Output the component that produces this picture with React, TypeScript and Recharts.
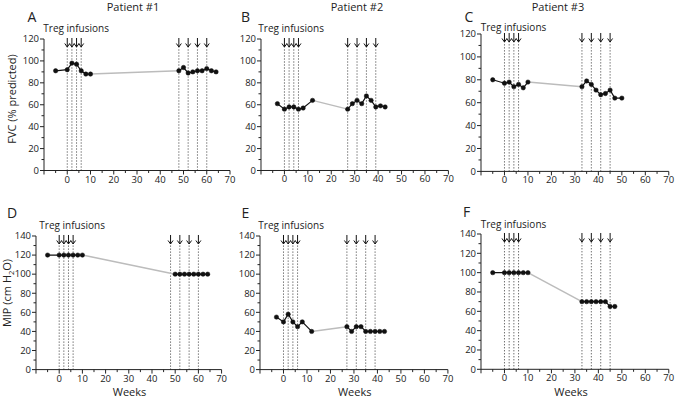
import React from 'react'
import { LineChart, Line, XAxis, YAxis, ReferenceLine } from 'recharts'

// weeks / values
const p1PreWeeks = [-5, 0, 2, 4, 6, 8, 10]
const p1PostWeeks = [48, 50, 52, 54, 56, 58, 60, 62, 64]
const p1FvcPre = [91, 92, 98, 97, 91, 88, 88]
const p1FvcPost = [91, 94, 89, 90, 91, 91, 93, 91, 90]
const p1MipPostWeeks = [50, 52, 54, 56, 58, 60, 62, 64]
const p1MipPre = [120, 120, 120, 120, 120, 120, 120]
const p1MipPost = [100, 100, 100, 100, 100, 100, 100, 100]
const p1Infusions = [0, 2, 4, 6, 48, 52, 56, 60]

const p2PreWeeks = [-3, 0, 2, 4, 6, 8, 12]
const p2PostWeeks = [27, 29, 31, 33, 35, 37, 39, 41, 43]
const p2FvcPre = [61, 56, 58, 58, 56, 57, 64]
const p2FvcPost = [56, 61, 64, 61, 68, 64, 58, 59, 58]
const p2MipPre = [55, 50, 58, 50, 45, 50, 40]
const p2MipPost = [45, 40, 45, 45, 40, 40, 40, 40, 40]
const p2Infusions = [0, 2, 4, 6, 27, 31, 35, 39]

const p3PreWeeks = [-5, 0, 2, 4, 6, 8, 10]
const p3FvcPostWeeks = [33, 35, 37, 39, 41, 43, 45, 47, 50]
const p3FvcPre = [80, 77, 78, 74, 76, 73, 78]
const p3FvcPost = [74, 79, 76, 71, 67, 68, 71, 64, 64]
const p3MipPostWeeks = [33, 35, 37, 39, 41, 43, 45, 47]
const p3MipPre = [100, 100, 100, 100, 100, 100, 100]
const p3MipPost = [70, 70, 70, 70, 70, 70, 65, 65]
const p3Infusions = [0, 2, 4, 6, 33, 37, 41, 45]

const xTicks = [-10, -5, 0, 5, 10, 15, 20, 25, 30, 35, 40, 45, 50, 55, 60, 65, 70]
const fvcTicks = [0, 10, 20, 30, 40, 50, 60, 70, 80, 90, 100, 110, 120]
const mipTicks = [0, 10, 20, 30, 40, 50, 60, 70, 80, 90, 100, 110, 120, 130, 140]

const FONT = '"Open Sans", sans-serif'
const INK = '#222'

const pts = (weeks: number[], vals: number[]) => weeks.map((w, i) => ({ week: w, value: vals[i] }))

const XTick = ({ x, y, payload }: any) => {
  const v = payload.value
  const ay = y - 6
  const major = v % 10 === 0
  return (
    <g>
      <line x1={x} x2={x} y1={ay} y2={ay + (major ? 4 : 2.5)} stroke={INK} />
      {major && v >= 0 && (
        <text x={x} y={ay + 12} textAnchor="middle" fontSize={9.5} fontFamily={FONT} fill={INK}>{v}</text>
      )}
    </g>
  )
}

const YTick = ({ x, y, payload }: any) => {
  const v = payload.value
  const ax = x + 6
  const major = v % 20 === 0
  return (
    <g>
      <line x1={ax} x2={ax - (major ? 4 : 2.5)} y1={y} y2={y} stroke={INK} />
      {major && (
        <text x={ax - 5} y={y + 3.3} textAnchor="end" fontSize={9.5} fontFamily={FONT} fill={INK}>{v}</text>
      )}
    </g>
  )
}

const Infusion = (props: any) => {
  const { x1, y1, y2 } = props
  const top = Math.min(y1, y2)
  const bottom = Math.max(y1, y2)
  const tip = top + 8
  return (
    <g>
      <line x1={x1} x2={x1} y1={bottom} y2={tip} stroke="#333" strokeDasharray="1 2" />
      <line x1={x1} x2={x1} y1={top - 1} y2={tip} stroke="#111" />
      <path d={`M${x1 - 2.5},${tip - 3.5}L${x1},${tip}L${x1 + 2.5},${tip - 3.5}`} fill="none" stroke="#111" />
    </g>
  )
}

interface PanelProps {
  box: { left: number; right: number; top: number; bottom: number }
  yMax: number
  yTicks: number[]
  pre: { week: number; value: number }[]
  post: { week: number; value: number }[]
  infusions: number[]
}

function Panel({ box, yMax, yTicks, pre, post, infusions }: PanelProps) {
  const mTop = 20, yW = 40, mRight = 10, xH = 25
  const w = box.right - box.left + yW + mRight
  const h = box.bottom - box.top + mTop + xH
  const bridge = [pre[pre.length - 1], post[0]]
  return (
    <div style={{ position: 'absolute', left: box.left - yW, top: box.top - mTop, width: w, height: h }}>
      <LineChart width={w} height={h} margin={{ top: mTop, right: mRight, bottom: 0, left: 0 }}>
        <XAxis dataKey="week" type="number" domain={[-10, 70]} ticks={xTicks} interval={0} height={xH}
          tickSize={4} tickMargin={2} tickLine={false} tick={<XTick />} stroke={INK} allowDataOverflow />
        <YAxis type="number" domain={[0, yMax]} ticks={yTicks} interval={0} width={yW}
          tickSize={4} tickMargin={2} tickLine={false} tick={<YTick />} stroke={INK} />
        {infusions.map(v => (
          <ReferenceLine key={v} x={v} shape={Infusion} />
        ))}
        <Line data={bridge} dataKey="value" stroke="#bcbcbc" strokeWidth={1.5} dot={false} isAnimationActive={false} />
        <Line data={pre} dataKey="value" stroke="#111" strokeWidth={1.2} dot={{ r: 2.2, fill: '#111', stroke: '#111', strokeWidth: 0.5 }} isAnimationActive={false} />
        <Line data={post} dataKey="value" stroke="#111" strokeWidth={1.2} dot={{ r: 2.2, fill: '#111', stroke: '#111', strokeWidth: 0.5 }} isAnimationActive={false} />
      </LineChart>
    </div>
  )
}

const txt = { fontFamily: FONT, fill: INK }

export default function App() {
  return (
    <div style={{ position: 'absolute', left: 0, top: 0, width: 675, height: 400, background: '#fff' }}>
      <Panel box={{ left: 44, right: 230, top: 39, bottom: 170.5 }} yMax={120} yTicks={fvcTicks}
        pre={pts(p1PreWeeks, p1FvcPre)} post={pts(p1PostWeeks, p1FvcPost)} infusions={p1Infusions} />
      <Panel box={{ left: 260.6, right: 448, top: 39, bottom: 170.5 }} yMax={120} yTicks={fvcTicks}
        pre={pts(p2PreWeeks, p2FvcPre)} post={pts(p2PostWeeks, p2FvcPost)} infusions={p2Infusions} />
      <Panel box={{ left: 480.5, right: 668.3, top: 34.3, bottom: 171.7 }} yMax={120} yTicks={fvcTicks}
        pre={pts(p3PreWeeks, p3FvcPre)} post={pts(p3FvcPostWeeks, p3FvcPost)} infusions={p3Infusions} />
      <Panel box={{ left: 36.1, right: 221.7, top: 235.7, bottom: 369.3 }} yMax={140} yTicks={mipTicks}
        pre={pts(p1PreWeeks, p1MipPre)} post={pts(p1MipPostWeeks, p1MipPost)} infusions={p1Infusions} />
      <Panel box={{ left: 259.8, right: 447.7, top: 235.7, bottom: 369.3 }} yMax={140} yTicks={mipTicks}
        pre={pts(p2PreWeeks, p2MipPre)} post={pts(p2PostWeeks, p2MipPost)} infusions={p2Infusions} />
      <Panel box={{ left: 480.5, right: 668.3, top: 234, bottom: 369.3 }} yMax={140} yTicks={mipTicks}
        pre={pts(p3PreWeeks, p3MipPre)} post={pts(p3MipPostWeeks, p3MipPost)} infusions={p3Infusions} />

      <svg width={675} height={400} style={{ position: 'absolute', left: 0, top: 0, pointerEvents: 'none' }}>
        <text x={133} y={10.5} textAnchor="middle" fontSize={11} {...txt}>Patient #1</text>
        <text x={357} y={10.5} textAnchor="middle" fontSize={11} {...txt}>Patient #2</text>
        <text x={558} y={10.5} textAnchor="middle" fontSize={11} {...txt}>Patient #3</text>

        <text x={27.5} y={21.7} fontSize={14} {...txt}>A</text>
        <text x={241} y={21.7} fontSize={14} {...txt}>B</text>
        <text x={464.5} y={21.7} fontSize={14} {...txt}>C</text>
        <text x={7} y={218.3} fontSize={14} {...txt}>D</text>
        <text x={241.5} y={218.3} fontSize={14} {...txt}>E</text>
        <text x={463} y={217} fontSize={14} {...txt}>F</text>

        <text x={43.3} y={31.7} fontSize={10} {...txt}>Treg infusions</text>
        <text x={258.3} y={31.7} fontSize={10} {...txt}>Treg infusions</text>
        <text x={480.7} y={31} fontSize={10} {...txt}>Treg infusions</text>
        <text x={39.3} y={228.5} fontSize={10} {...txt}>Treg infusions</text>
        <text x={258.3} y={228.5} fontSize={10} {...txt}>Treg infusions</text>
        <text x={480.7} y={228} fontSize={10} {...txt}>Treg infusions</text>

        <text x={16} y={99} textAnchor="middle" fontSize={11} transform="rotate(-90 16 99)" {...txt}>FVC (% predicted)</text>
        <text x={11} y={293} textAnchor="middle" fontSize={11} transform="rotate(-90 11 293)" {...txt}>
          MIP (cm H<tspan fontSize={7.5} dy={2.5}>2</tspan><tspan dy={-2.5}>O)</tspan>
        </text>

        <text x={129.5} y={396} textAnchor="middle" fontSize={11} {...txt}>Weeks</text>
        <text x={354.7} y={396} textAnchor="middle" fontSize={11} {...txt}>Weeks</text>
        <text x={571} y={396} textAnchor="middle" fontSize={11} {...txt}>Weeks</text>
      </svg>
    </div>
  )
}
